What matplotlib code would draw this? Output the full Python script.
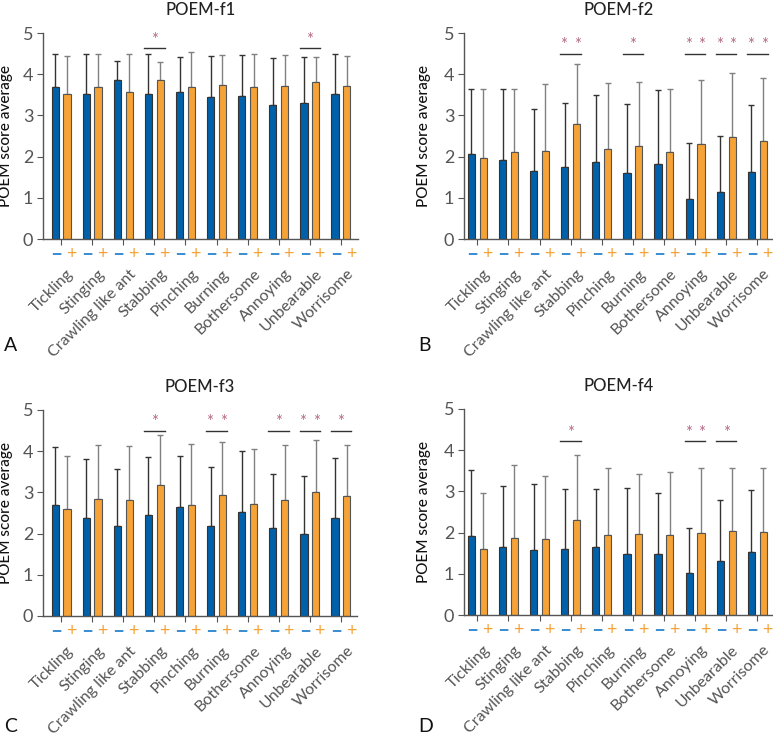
import numpy as np
import matplotlib; matplotlib.use("Agg")
import matplotlib.pyplot as plt

plt.rcParams['font.family'] = ['Lato', 'DejaVu Sans']

categories = ["Tickling", "Stinging", "Crawling like ant", "Stabbing", "Pinching",
              "Burning", "Bothersome", "Annoying", "Unbearable", "Worrisome"]

f1_neg = [3.68, 3.53, 3.87, 3.53, 3.56, 3.45, 3.47, 3.26, 3.29, 3.51]
f1_neg_sd = [0.80, 0.95, 0.45, 0.95, 0.86, 1.00, 1.00, 1.14, 1.13, 0.98]
f1_pos = [3.53, 3.68, 3.56, 3.87, 3.70, 3.73, 3.70, 3.72, 3.80, 3.72]
f1_pos_sd = [0.91, 0.80, 0.92, 0.43, 0.83, 0.74, 0.78, 0.75, 0.62, 0.73]

f2_neg = [2.06, 1.92, 1.64, 1.74, 1.86, 1.59, 1.83, 0.97, 1.13, 1.62]
f2_neg_sd = [1.59, 1.73, 1.51, 1.57, 1.63, 1.69, 1.78, 1.35, 1.37, 1.63]
f2_pos = [1.97, 2.11, 2.13, 2.78, 2.18, 2.26, 2.11, 2.31, 2.48, 2.37]
f2_pos_sd = [1.66, 1.54, 1.64, 1.46, 1.60, 1.55, 1.54, 1.55, 1.55, 1.54]

f3_neg = [2.69, 2.39, 2.18, 2.46, 2.64, 2.19, 2.52, 2.14, 2.00, 2.38]
f3_neg_sd = [1.42, 1.43, 1.40, 1.39, 1.24, 1.42, 1.49, 1.30, 1.39, 1.46]
f3_pos = [2.60, 2.84, 2.82, 3.17, 2.69, 2.94, 2.72, 2.82, 3.00, 2.91]
f3_pos_sd = [1.29, 1.32, 1.31, 1.23, 1.49, 1.28, 1.33, 1.34, 1.26, 1.25]

f4_neg = [1.92, 1.64, 1.57, 1.60, 1.65, 1.49, 1.48, 1.01, 1.32, 1.53]
f4_neg_sd = [1.59, 1.50, 1.62, 1.45, 1.41, 1.60, 1.48, 1.11, 1.46, 1.50]
f4_pos = [1.59, 1.88, 1.84, 2.30, 1.93, 1.96, 1.93, 2.00, 2.04, 2.02]
f4_pos_sd = [1.36, 1.76, 1.53, 1.59, 1.63, 1.47, 1.53, 1.57, 1.52, 1.54]

# significance marks: category index -> stars, and height of the bracket
f1_sig = {3: "*", 8: "*"}
f2_sig = {3: "**", 5: "*", 7: "**", 8: "**", 9: "**"}
f3_sig = {3: "*", 5: "**", 7: "*", 8: "**", 9: "*"}
f4_sig = {3: "*", 7: "**", 8: "*"}
sig_level = [4.63, 4.50, 4.50, 4.22]

titles = ["POEM-f1", "POEM-f2", "POEM-f3", "POEM-f4"]
letters = ["A", "B", "C", "D"]

BLUE, ORANGE = "#0060a9", "#f5a236"
DASH_BLUE, STAR = "#3d8fd1", "#b56a88"
W, H = 773, 741

fig = plt.figure(figsize=(W / 100, H / 100), dpi=100)
# axes boxes in pixels: left, right, top(y=5), bottom(y=0), xlim left pad
boxes = [(43, 358, 33, 239, 0.58), (464, 773, 33, 239, 0.43),
         (43, 357, 410, 616, 0.58), (464, 773, 409, 615, 0.43)]
letter_pos = [(4, 345), (418, 345), (4, 727), (418, 726)]

panels = [(f1_neg, f1_neg_sd, f1_pos, f1_pos_sd, f1_sig),
          (f2_neg, f2_neg_sd, f2_pos, f2_pos_sd, f2_sig),
          (f3_neg, f3_neg_sd, f3_pos, f3_pos_sd, f3_sig),
          (f4_neg, f4_neg_sd, f4_pos, f4_pos_sd, f4_sig)]

x = np.arange(len(categories))
bw, off = 0.23, 0.19
for k, (neg, nsd, pos, psd, sig) in enumerate(panels):
    l, r, t, b, pad = boxes[k]
    ax = fig.add_axes([l / W, 1 - b / H, (r - l) / W, (b - t) / H])
    ax.bar(x - off, neg, bw, color=BLUE, edgecolor="#333333", lw=0.8, zorder=2)
    ax.bar(x + off, pos, bw, color=ORANGE, edgecolor="#555555", lw=0.8, zorder=2)
    ax.errorbar(x - off, neg, yerr=[np.zeros(len(neg)), nsd], fmt="none",
                ecolor="#333333", elinewidth=1, capsize=2.5, zorder=1)
    ax.errorbar(x + off, pos, yerr=[np.zeros(len(pos)), psd], fmt="none",
                ecolor="#808080", elinewidth=1, capsize=2.5, zorder=1)
    ax.set_ylim(0, 5)
    n_units = (r - l) / 31.1
    ax.set_xlim(-pad, -pad + n_units)
    for s in ["top", "right"]:
        ax.spines[s].set_visible(False)
    for s in ["left", "bottom"]:
        ax.spines[s].set_color("#555555")
        ax.spines[s].set_linewidth(1.0)
    ax.set_yticks(range(6))
    ax.tick_params(axis="y", labelsize=13, colors="#555555", length=4, pad=3)
    ax.set_xticks(x)
    ax.set_xticklabels([])
    ax.tick_params(axis="x", length=4, color="#555555")
    ax.set_ylabel("POEM score average", fontsize=11, color="#111111", fontweight="medium")
    ax.yaxis.set_label_coords(-0.095 if k % 2 == 0 else -0.108, 0.5)
    ax.set_title(titles[k], fontsize=12, color="#222222", pad=13, fontweight="medium")
    tr = ax.get_xaxis_transform()
    for i, c in enumerate(categories):
        # group signs under the axis: "-" negative, "+" positive
        ax.text(x[i] - 0.16, -0.073, "\u2013", transform=tr, color=DASH_BLUE,
                fontsize=15, fontweight="bold", ha="center", va="center", clip_on=False)
        ax.text(x[i] + 0.32, -0.073, "+", transform=tr, color=ORANGE,
                fontsize=13, ha="center", va="center", clip_on=False)
        ax.text(x[i] + 0.33, -0.16, c, transform=tr, rotation=45,
                rotation_mode="anchor", ha="right", va="center", fontsize=11.5,
                color="#555555", clip_on=False)
    for i, stars in sig.items():
        yl = sig_level[k]
        ax.plot([x[i] - 0.33, x[i] + 0.33], [yl, yl], color="#333333", lw=1, clip_on=False)
        if stars == "*":
            ax.text(x[i], yl + 0.2, "*", color=STAR, fontsize=12, ha="center", va="center")
        else:
            for dx in (-0.22, 0.22):
                ax.text(x[i] + dx, yl + 0.2, "*", color=STAR, fontsize=12, ha="center", va="center")
    lx, ly = letter_pos[k]
    fig.text(lx / W, 1 - ly / H, letters[k], fontsize=14, color="#111111", va="center")

fig.savefig("out.png", dpi=100)
